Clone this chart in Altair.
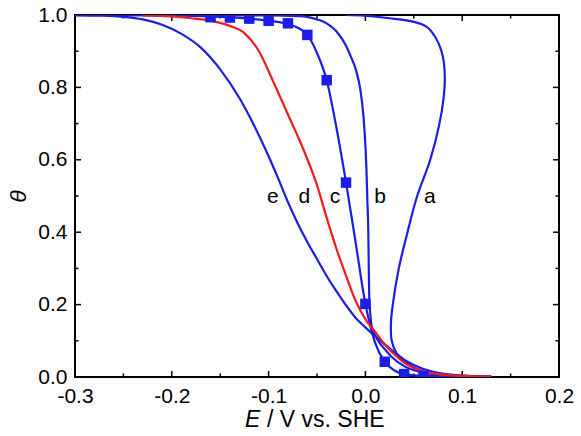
import altair as alt
import pandas as pd

BLUE = "#1c1ce6"
RED = "#ee1c1c"
FONT = "Liberation Sans"

# Coverage curves theta(E); curve a folds back, so its points are kept in drawing order.
a_E = [-0.02, 0.0, 0.025, 0.05, 0.063, 0.072, 0.078, 0.081, 0.082, 0.0805, 0.0765,
       0.067, 0.0535, 0.0435, 0.0345, 0.0283, 0.0264, 0.0272, 0.0323, 0.0427,
       0.0598, 0.084, 0.105, 0.13]
a_theta = [1.0, 0.998, 0.991, 0.981, 0.968, 0.94, 0.905, 0.87, 0.82, 0.765, 0.70,
           0.60, 0.50, 0.40, 0.30, 0.20, 0.15, 0.10, 0.065, 0.038, 0.015, 0.006,
           0.003, 0.001]

b_E = [-0.30, -0.10, -0.07, -0.06, -0.05, -0.04, -0.03, -0.02, -0.015, -0.01,
       -0.005, -0.002, 0.0, 0.001, 0.002, 0.003, 0.0035, 0.004, 0.005, 0.0065,
       0.01, 0.015, 0.02, 0.027, 0.04, 0.055, 0.07, 0.1, 0.13]
b_theta = [1.0, 0.999, 0.997, 0.995, 0.988, 0.977, 0.955, 0.915, 0.885, 0.85,
           0.79, 0.72, 0.64, 0.58, 0.49, 0.40, 0.30, 0.22, 0.175, 0.139, 0.115,
           0.093, 0.077, 0.056, 0.03, 0.015, 0.008, 0.002, 0.0]

c_E = [-0.30, -0.20, -0.16, -0.14, -0.12, -0.10, -0.08, -0.07, -0.06, -0.05,
       -0.04, -0.03, -0.02, -0.01, 0.0, 0.01, 0.02, 0.03, 0.04, 0.06, 0.08,
       0.1, 0.13]
c_theta = [1.0, 0.999, 0.996, 0.994, 0.99, 0.984, 0.975, 0.965, 0.945, 0.895,
           0.82, 0.69, 0.537, 0.37, 0.202, 0.095, 0.042, 0.018, 0.008, 0.003,
           0.002, 0.001, 0.0]

d_E = [-0.23, -0.20, -0.18, -0.16, -0.14, -0.125, -0.11, -0.095, -0.08, -0.065,
       -0.05, -0.04, -0.03, -0.02, -0.01, 0.0, 0.01, 0.02, 0.03, 0.04, 0.05,
       0.07, 0.1, 0.13]
d_theta = [0.999, 0.996, 0.991, 0.984, 0.97, 0.95, 0.90, 0.815, 0.725, 0.635,
           0.53, 0.44, 0.355, 0.28, 0.21, 0.16, 0.125, 0.09, 0.062, 0.04, 0.025,
           0.01, 0.003, 0.001]

e_E = [-0.30, -0.27, -0.25, -0.23, -0.21, -0.19, -0.17, -0.15, -0.13, -0.115,
       -0.10, -0.09, -0.08, -0.07, -0.06, -0.05, -0.04, -0.03, -0.02, -0.01,
       0.0, 0.01, 0.02, 0.03, 0.04, 0.05, 0.07, 0.1, 0.13]
e_theta = [0.999, 0.998, 0.995, 0.988, 0.973, 0.948, 0.91, 0.85, 0.77, 0.695,
           0.61, 0.548, 0.483, 0.425, 0.373, 0.326, 0.279, 0.237, 0.198, 0.163,
           0.137, 0.113, 0.09, 0.068, 0.048, 0.033, 0.014, 0.004, 0.001]

# Measured points shown as squares on curve c
pts_E = [-0.16, -0.14, -0.12, -0.10, -0.08, -0.06, -0.04, -0.02, 0.0, 0.02, 0.04, 0.06]
pts_theta = [0.994, 0.993, 0.99, 0.984, 0.977, 0.945, 0.82, 0.537, 0.202, 0.042, 0.008, 0.003]

# Curve labels
label_text = ["e", "d", "c", "b", "a"]
label_E = [-0.0955, -0.0631, -0.0314, 0.0151, 0.0667]
label_theta = [0.482, 0.482, 0.482, 0.482, 0.482]

# Axis labels and tick positions
x_labels = [-0.3, -0.2, -0.1, 0.0, 0.1, 0.2]
x_minor = [-0.25, -0.15, -0.05, 0.05, 0.15]
y_labels = [0.0, 0.2, 0.4, 0.6, 0.8, 1.0]
y_minor = [0.1, 0.3, 0.5, 0.7, 0.9]

W, H = 484, 362


def curve_frame(name, E, theta):
    return pd.DataFrame({"E": E, "theta": theta, "curve": name, "step": list(range(len(E)))})


fold = curve_frame("a", a_E, a_theta)
lines = pd.concat([
    curve_frame("b", b_E, b_theta),
    curve_frame("c", c_E, c_theta),
    curve_frame("e", e_E, e_theta),
    curve_frame("d", d_E, d_theta),
], ignore_index=True)

points = pd.DataFrame({"E": pts_E, "theta": pts_theta})
labels = pd.DataFrame({"E": label_E, "theta": label_theta, "label": label_text})
xmaj = pd.DataFrame({"E": x_labels})
xmin = pd.DataFrame({"E": x_minor})
ymaj = pd.DataFrame({"theta": y_labels})
ymin = pd.DataFrame({"theta": y_minor})

x_scale = alt.Scale(domain=[-0.3, 0.2], nice=False, zero=False)
y_scale = alt.Scale(domain=[0, 1], nice=False, zero=False)

x_axis = alt.Axis(
    values=x_labels,
    labelExpr="(datum.value < 0 ? '-' : '') + format(abs(datum.value), '.1f')",
    ticks=False, tickSize=0, domain=False, grid=False, title=None,
    labelFont=FONT, labelFontSize=21, labelColor="black",
    labelPadding=8, labelFlush=False, labelOverlap=False,
)
y_axis = alt.Axis(
    values=y_labels, format=".1f",
    ticks=False, tickSize=0, domain=False, grid=False,
    title="θ", titleFont=FONT, titleFontStyle="italic", titleFontSize=23,
    titleFontWeight="normal", titleColor="black", titleAngle=270,
    titleX=-57, titleY=181, titleAlign="center", titleBaseline="middle",
    labelFont=FONT, labelFontSize=21, labelColor="black",
    labelPadding=8, labelFlush=False, labelOverlap=False,
)

X = alt.X("E:Q", scale=x_scale, axis=x_axis)
Y = alt.Y("theta:Q", scale=y_scale, axis=y_axis)

color = alt.Color("curve:N",
                  scale=alt.Scale(domain=["a", "b", "c", "d", "e"],
                                  range=[BLUE, BLUE, BLUE, RED, BLUE]),
                  legend=None)

curves = alt.Chart(lines).mark_line(strokeWidth=2.2, clip=True, interpolate="monotone").encode(
    x=X, y=Y, color=color, order=alt.Order("step:Q"),
)

curve_a = alt.Chart(fold).mark_line(strokeWidth=2.2, clip=True, interpolate="catmull-rom").encode(
    x=X, y=Y, color=color, order=alt.Order("step:Q"),
)

squares = alt.Chart(points).mark_square(size=110, color=BLUE, opacity=1, clip=True).encode(x=X, y=Y)

names = alt.Chart(labels).mark_text(
    font=FONT, fontSize=21, color="black", align="center", baseline="alphabetic"
).encode(x=X, y=Y, text="label:N")


def xticks(df, length):
    bottom = alt.Chart(df).mark_rule(color="black", strokeWidth=1.5).encode(
        x=X, y=alt.value(H), y2=alt.value(H - length))
    top = alt.Chart(df).mark_rule(color="black", strokeWidth=1.5).encode(
        x=X, y=alt.value(0), y2=alt.value(length))
    return [bottom, top]


def yticks(df, length):
    left = alt.Chart(df).mark_rule(color="black", strokeWidth=1.5).encode(
        y=Y, x=alt.value(0), x2=alt.value(length))
    right = alt.Chart(df).mark_rule(color="black", strokeWidth=1.5).encode(
        y=Y, x=alt.value(W), x2=alt.value(W - length))
    return [left, right]


# x-axis title: italic E followed by the unit text, one row each
title_E = alt.Chart(pd.DataFrame({"t": ["E"]})).mark_text(
    font=FONT, fontSize=23, fontStyle="italic", color="black",
    align="left", baseline="middle"
).encode(text="t:N", x=alt.value(170), y=alt.value(405))
title_rest = alt.Chart(pd.DataFrame({"t": ["/ V vs. SHE"]})).mark_text(
    font=FONT, fontSize=23, color="black",
    align="left", baseline="middle"
).encode(text="t:N", x=alt.value(192), y=alt.value(405))

layers = (xticks(xmaj, 6) + xticks(xmin, 3.5) + yticks(ymaj, 6) + yticks(ymin, 3.5)
          + [curve_a, curves, squares, names, title_E, title_rest])

chart = alt.layer(*layers).properties(
    width=W, height=H,
    autosize=alt.AutoSizeParams(type="none"),
    padding={"left": 75, "top": 15, "right": 22, "bottom": 59},
    background="white",
).configure_view(stroke="black", strokeWidth=2)

chart.save("out.html", embed_options={"renderer": "svg", "actions": False})
